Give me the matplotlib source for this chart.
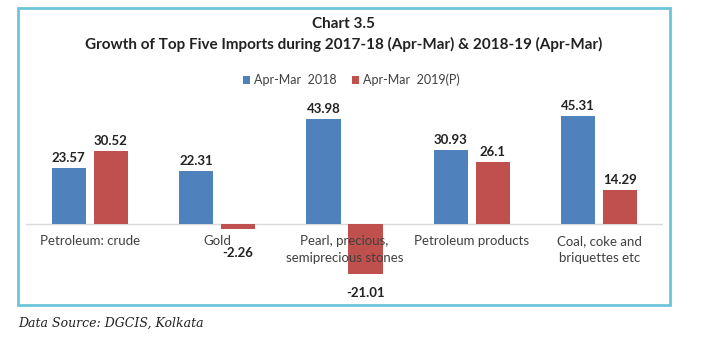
import matplotlib.pyplot as plt
from matplotlib.patches import Rectangle
import numpy as np

categories = ["Petroleum: crude", "Gold", "Pearl, precious,\nsemiprecious stones",
              "Petroleum products", "Coal, coke and\nbriquettes etc"]
growth_2018 = [23.57, 22.31, 43.98, 30.93, 45.31]
growth_2019 = [30.52, -2.26, -21.01, 26.1, 14.29]
value_labels_2018 = ["23.57", "22.31", "43.98", "30.93", "45.31"]
value_labels_2019 = ["30.52", "-2.26", "-21.01", "26.1", "14.29"]

blue = "#4f81bd"
red = "#c0504d"
font = ["Lato", "DejaVu Sans"]

fig = plt.figure(figsize=(7.21, 3.42), dpi=100)
ax = fig.add_axes([0.036, 0.171, 0.8835, 0.522])

x = np.arange(len(categories))
w = 0.268
off = 0.165
b1 = ax.bar(x - off, growth_2018, w, color=blue, label="Apr-Mar  2018")
b2 = ax.bar(x + off, growth_2019, w, color=red, label="Apr-Mar  2019(P)")

ax.set_xlim(-0.5, 4.5)
ax.set_ylim(-25, 50)
ax.axhline(0, color="#d9d9d9", lw=1, zorder=0)
for s in ax.spines.values():
    s.set_visible(False)
ax.set_xticks([])
ax.set_yticks([])

# value labels above / below bars (small negatives pushed clear of the category text)
for bars, labels in ((b1, value_labels_2018), (b2, value_labels_2019)):
    for bar, lab in zip(bars, labels):
        h = bar.get_height()
        cx = bar.get_x() + bar.get_width() / 2
        if h >= 0:
            ax.annotate(lab, (cx, h), xytext=(0, 3), textcoords="offset points",
                        ha="center", va="bottom", fontsize=9.5, fontweight="bold",
                        family=font, color="#222222")
        else:
            ax.annotate(lab, (cx, min(h, -4.5)), xytext=(0, -9), textcoords="offset points",
                        ha="center", va="top", fontsize=9.5, fontweight="bold",
                        family=font, color="#222222")

# category labels under the zero line
for i, cat in enumerate(categories):
    ax.annotate(cat, (i, 0), xytext=(0, -8), textcoords="offset points",
                ha="center", va="top", fontsize=9.5, family=font,
                color="#404040", linespacing=1.5)

# title
fig.text(0.476, 1 - 24 / 342, "Chart 3.5", ha="center", va="center",
         fontsize=11, fontweight="bold", family=font, color="#222222")
fig.text(0.476, 1 - 44 / 342, "Growth of Top Five Imports during 2017-18 (Apr-Mar) & 2018-19 (Apr-Mar)",
         ha="center", va="center", fontsize=11, fontweight="bold", family=font,
         color="#222222")

leg = fig.legend(loc="center", bbox_to_anchor=(0.487, 1 - 80 / 342), ncol=2, frameon=False,
                 prop={"family": font, "size": 9}, handlelength=0.6, handleheight=0.6,
                 handletextpad=0.3, columnspacing=1.2)
for t in leg.get_texts():
    t.set_color("#404040")

# frame around the chart
fig.patches.append(Rectangle((18 / 721, 1 - 305 / 342), 652 / 721, 297 / 342,
                             transform=fig.transFigure, fill=False,
                             edgecolor="#6cc5d8", lw=2))

fig.text(18 / 721, 1 - 323 / 342, "Data Source: DGCIS, Kolkata", ha="left", va="center",
         fontsize=9, style="italic", family="DejaVu Serif", color="#222222")

fig.savefig("out.png", dpi=100)
